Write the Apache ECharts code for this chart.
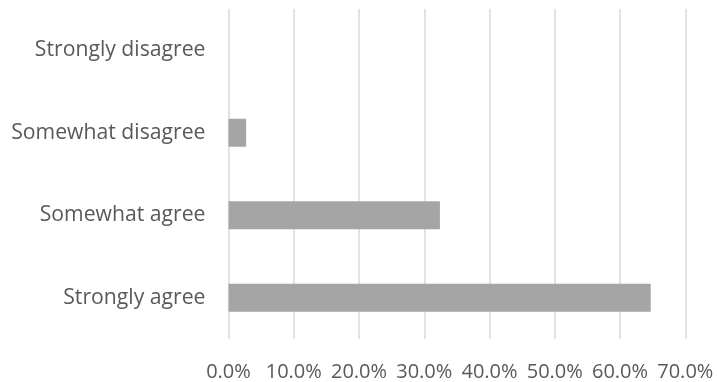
<!DOCTYPE html>
<html>
<head>
<meta charset="utf-8">
<script src="https://cdn.jsdelivr.net/npm/echarts@6/dist/echarts.min.js"></script>
<style>
  html, body { margin: 0; padding: 0; background: #ffffff; }
  #chart { width: 718px; height: 382px; }
</style>
</head>
<body>
<div id="chart"></div>
<script>
// Survey responses (share of respondents, %)
const categories = ['Strongly agree', 'Somewhat agree', 'Somewhat disagree', 'Strongly disagree'];
const shares = [64.7, 32.4, 2.7, 0];
const axisMin = 0;
const axisMax = 70;
const axisStep = 10;

const labelFont = '"Open Sans", "Noto Sans", sans-serif';

const chart = echarts.init(document.getElementById('chart'), null, { renderer: 'canvas' });
chart.setOption({
  animation: false,
  backgroundColor: '#ffffff',
  grid: { left: 228.5, right: 32.7, top: 9, bottom: 42, containLabel: false },
  xAxis: {
    type: 'value',
    min: axisMin,
    max: axisMax,
    interval: axisStep,
    axisLine: { show: false },
    axisTick: { show: false },
    splitLine: { show: true, lineStyle: { color: '#d9d9d9', width: 1.5 } },
    axisLabel: {
      color: '#595959',
      fontFamily: labelFont,
      fontSize: 20,
      margin: 23,
      formatter: v => v.toFixed(1) + '%'
    }
  },
  yAxis: {
    type: 'category',
    data: categories,
    axisLine: { show: false },
    axisTick: { show: false },
    splitLine: { show: false },
    axisLabel: {
      color: '#595959',
      fontFamily: labelFont,
      fontSize: 21.2,
      margin: 23
    }
  },
  series: [{
    type: 'bar',
    data: shares,
    barWidth: 28,
    itemStyle: { color: '#a5a5a5' },
    silent: true
  }]
});
</script>
</body>
</html>
